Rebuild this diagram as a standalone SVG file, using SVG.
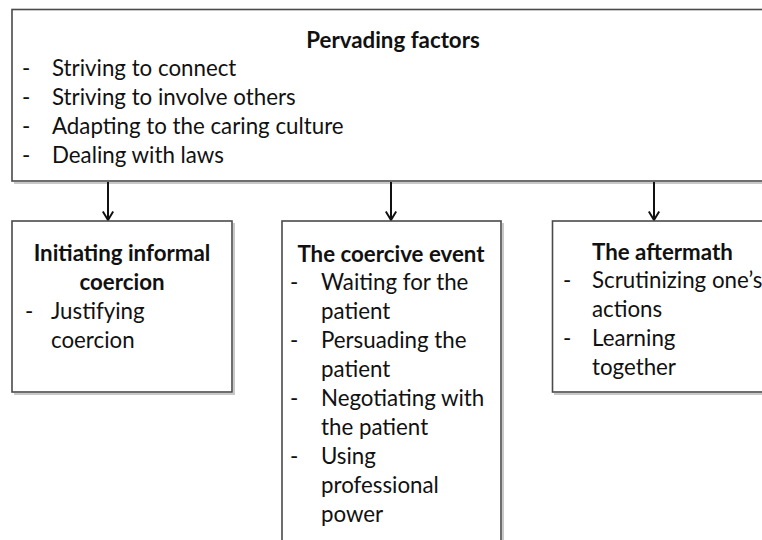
<svg xmlns="http://www.w3.org/2000/svg" width="762" height="540" viewBox="0 0 762 540">
  <style>
    .box { fill: #ffffff; stroke: #4a4a4a; stroke-width: 1.6; }
    .shadow { fill: none; stroke: #c8c8c8; stroke-width: 2; }
    .t { font-family: Lato, "Open Sans", "Liberation Sans", sans-serif; font-size: 22.3px; fill: #111111; }
    .h { font-weight: bold; }
    .c { text-anchor: middle; }
    .link { stroke: #111111; stroke-width: 2; fill: none; }
  </style>
  <defs>
    <!-- open chevron head, drawn pointing along +x -->
    <marker id="arrow" markerWidth="12" markerHeight="12" refX="11" refY="6" orient="auto" markerUnits="userSpaceOnUse" viewBox="0 0 12 12">
      <path d="M2.5,0.8 L11,6 L2.5,11.2" fill="none" stroke="#111111" stroke-width="2"/>
    </marker>
  </defs>
  <rect width="762" height="540" fill="#ffffff"/>

  <!-- top box: shared factors -->
  <g id="pervading">
    <path class="shadow" d="M14,183 H770 M770,11 V183"/>
    <rect class="box" x="12" y="9.5" width="756" height="171.5"/>
    <text class="t h c" x="393" y="48">Pervading factors</text>
    <text class="t" x="22" y="76">-</text><text class="t" x="52" y="76">Striving to connect</text>
    <text class="t" x="22" y="105">-</text><text class="t" x="52" y="105">Striving to involve others</text>
    <text class="t" x="22" y="134">-</text><text class="t" x="52" y="134">Adapting to the caring culture</text>
    <text class="t" x="22" y="163">-</text><text class="t" x="52" y="163">Dealing with laws</text>
  </g>

  <!-- connectors -->
  <g id="connectors">
    <line class="link" x1="108" y1="182" x2="108" y2="220" marker-end="url(#arrow)"/>
    <line class="link" x1="391" y1="182" x2="391" y2="220" marker-end="url(#arrow)"/>
    <line class="link" x1="654" y1="182" x2="654" y2="220" marker-end="url(#arrow)"/>
  </g>

  <!-- left box -->
  <g id="initiating">
    <path class="shadow" d="M14,394 H234 V223"/>
    <rect class="box" x="12" y="221" width="220" height="171"/>
    <text class="t h c" x="122" y="261">Initiating informal</text>
    <text class="t h c" x="122" y="290">coercion</text>
    <text class="t" x="25" y="319">-</text><text class="t" x="51" y="319">Justifying</text>
    <text class="t" x="51" y="348">coercion</text>
  </g>

  <!-- middle box -->
  <g id="event">
    <path class="shadow" d="M503,223 V545"/>
    <rect class="box" x="282" y="221" width="219" height="330"/>
    <text class="t h c" x="391" y="262">The coercive event</text>
    <text class="t" x="290" y="290">-</text><text class="t" x="321" y="290">Waiting for the</text>
    <text class="t" x="321" y="319">patient</text>
    <text class="t" x="290" y="348">-</text><text class="t" x="321" y="348">Persuading the</text>
    <text class="t" x="321" y="377">patient</text>
    <text class="t" x="290" y="406">-</text><text class="t" x="321" y="406">Negotiating with</text>
    <text class="t" x="321" y="435">the patient</text>
    <text class="t" x="290" y="464">-</text><text class="t" x="321" y="464">Using</text>
    <text class="t" x="321" y="493">professional</text>
    <text class="t" x="321" y="522">power</text>
  </g>

  <!-- right box -->
  <g id="aftermath">
    <path class="shadow" d="M554,394 H770"/>
    <rect class="box" x="552.5" y="221" width="220" height="171"/>
    <text class="t h" x="592" y="260">The aftermath</text>
    <text class="t" x="563" y="288">-</text><text class="t" x="592" y="288">Scrutinizing one’s</text>
    <text class="t" x="592" y="317">actions</text>
    <text class="t" x="563" y="346">-</text><text class="t" x="592" y="346">Learning</text>
    <text class="t" x="592" y="375">together</text>
  </g>
</svg>
